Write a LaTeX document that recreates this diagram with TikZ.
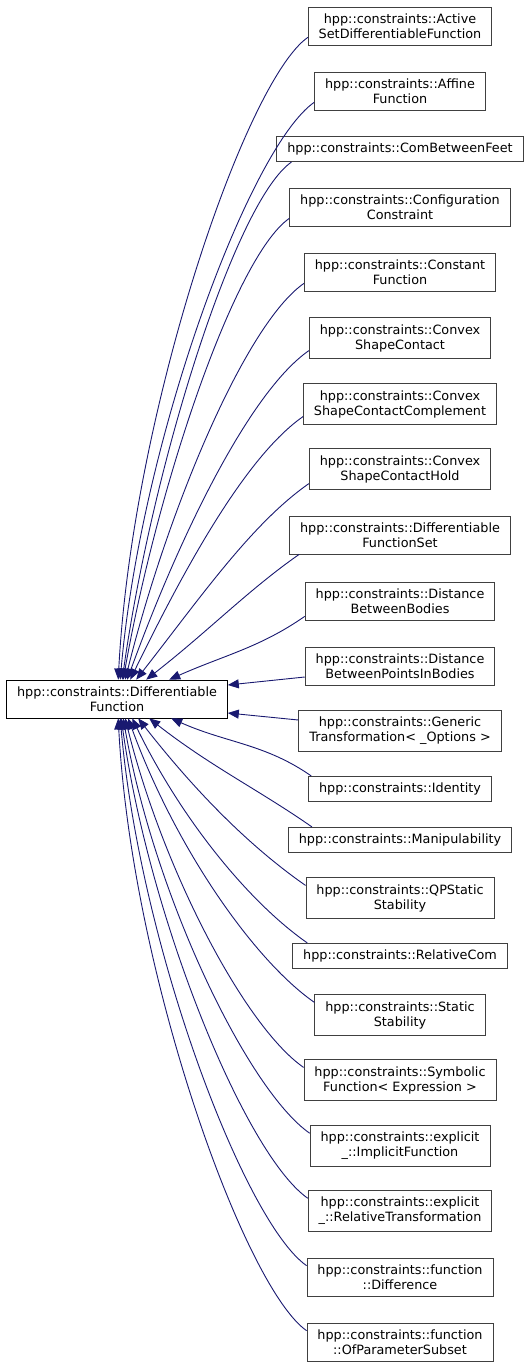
\documentclass[tikz,border=0pt]{standalone}
\usepackage{fontspec}
\setmainfont{DejaVu Sans}
\usetikzlibrary{arrows.meta,calc}
\definecolor{edgeblue}{HTML}{191970}
\definecolor{boxgray}{HTML}{404040}
\begin{document}
\begin{tikzpicture}[x=1pt, y=-1pt,
  cls/.style={draw=boxgray, line width=0.8pt, fill=white, align=center,
    inner xsep=10.5pt, inner ysep=6.5pt, font=\fontsize{12.8}{15}\selectfont},
  edge/.style={edgeblue, line width=0.9pt, -{Triangle[length=11pt,width=9pt]}}]

\useasboundingbox (0,0) rectangle (531,1369);

\node[cls, draw=black] (base) at (117,699) {hpp::constraints::Differentiable\\Function};

\foreach \c/\yy/\t in {
	c1/26/{hpp::constraints::Active\\SetDifferentiableFunction},
	c2/91/{hpp::constraints::Affine\\Function},
	c3/149/{hpp::constraints::ComBetweenFeet},
	c4/207/{hpp::constraints::Configuration\\Constraint},
	c5/272/{hpp::constraints::Constant\\Function},
	c6/338/{hpp::constraints::Convex\\ShapeContact},
	c7/404/{hpp::constraints::Convex\\ShapeContactComplement},
	c8/469/{hpp::constraints::Convex\\ShapeContactHold},
	c9/535/{hpp::constraints::Differentiable\\FunctionSet},
	c10/601/{hpp::constraints::Distance\\BetweenBodies},
	c11/666/{hpp::constraints::Distance\\BetweenPointsInBodies},
	c12/731/{hpp::constraints::Generic\\Transformation< \_Options >},
	c13/789/{hpp::constraints::Identity},
	c14/840/{hpp::constraints::Manipulability},
	c15/898/{hpp::constraints::QPStatic\\Stability},
	c16/956/{hpp::constraints::RelativeCom},
	c17/1015/{hpp::constraints::Static\\Stability},
	c18/1080/{hpp::constraints::Symbolic\\Function< Expression >},
	c19/1146/{hpp::constraints::explicit\\\_::ImplicitFunction},
	c20/1211/{hpp::constraints::explicit\\\_::RelativeTransformation},
	c21/1277/{hpp::constraints::function\\::Difference},
	c22/1342/{hpp::constraints::function\\::OfParameterSubset}}
\node[cls] (\c) at (400,\yy) {\t};

% edges into the top of the base class
\foreach \c/\tx/\ang/\sx/\sy in {
	c1/117/87/0/8, c2/119/85/0/8, c3/121/82/15/0, c4/122/80/0/8,
	c5/124/76/0/8, c6/126/70/0/8, c7/129/64/0/8, c8/135/52/0/6,
	c9/145/38/10/0, c10/168/24/0/4}
\draw[edge] let \p1=([xshift={\sx*1pt}, yshift={\sy*1pt}]\c.south west),
	\p2=([xshift={(\tx-5)*1pt}]base.north west),
	\n1={\x1-\x2}, \n2={veclen(\x1-\x2,\y1-\y2)} in
	(\p1) .. controls +({-0.33*\n1},{-0.23*\n1})
	and +({0.4*\n2*cos(\ang)},{0.4*\n2*sin(\ang)}) .. (\p2);

% edges into the side
\draw[edge] ([yshift=-11pt]c11.west) -- ([yshift=14pt]base.east);
\draw[edge] ([yshift=11pt]c12.west) -- ([yshift=-14pt]base.east);

% edges into the bottom of the base class
\foreach \c/\tx/\ang/\sx/\sy in {
	c13/170/24/3/0, c14/148/38/24/0, c15/137/52/0/8, c16/131/64/15/0,
	c17/127/70/0/8, c18/124/76/0/8, c19/122/80/0/8, c20/120/82/0/8,
	c21/119/85/0/8, c22/117/87/0/8}
\draw[edge] let \p1=([xshift={\sx*1pt}, yshift={-\sy*1pt}]\c.north west),
	\p2=([xshift={(\tx-5)*1pt}]base.south west),
	\n1={\x1-\x2}, \n2={veclen(\x1-\x2,\y1-\y2)} in
	(\p1) .. controls +({-0.33*\n1},{0.23*\n1})
	and +({0.4*\n2*cos(\ang)},{-0.4*\n2*sin(\ang)}) .. (\p2);

\end{tikzpicture}
\end{document}
